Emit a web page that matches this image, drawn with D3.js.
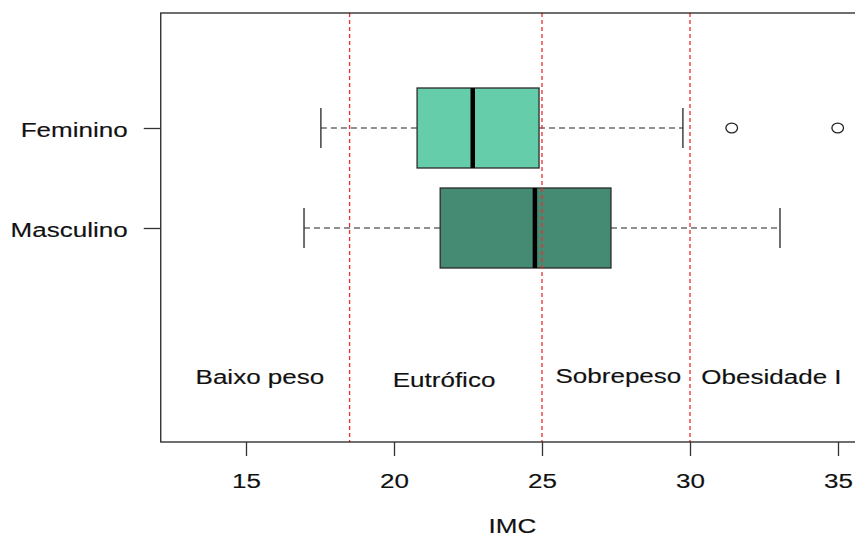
<!DOCTYPE html>
<meta charset="utf-8">
<style>
body { margin: 0; background: #fff; }
svg { display: block; font-family: "Liberation Sans", Arial, sans-serif; }
.frame { fill: none; stroke: #222; stroke-width: 1.3px; }
.whisker { stroke: #222; stroke-width: 1.2px; stroke-dasharray: 6,4; }
.staple { stroke: #333; stroke-width: 1.4px; }
.box { stroke: #2a2a2a; stroke-width: 1.3px; }
.median { stroke: #000; stroke-width: 4.5px; }
.outlier { fill: none; stroke: #222; stroke-width: 1.3px; }
.cut { stroke: #ee2c2c; stroke-width: 1.3px; stroke-dasharray: 4,3; }
.axis path, .axis line { stroke: #333; stroke-width: 1.3px; }
.axis text, .lbl { font-size: 21px; fill: #111; stroke: #111; stroke-width: 0.15px; }
</style>
<body>
<script src="https://cdn.jsdelivr.net/npm/d3@7"></script>
<script>

// groups, top to bottom
var groups = ["Feminino", "Masculino"];
var fills = ["#66CDAA", "#458B74"];
var lowWhisker = [17.53, 16.96];
var q1 = [20.78, 21.56];
var median = [22.66, 24.76];
var q3 = [24.90, 27.33];
var highWhisker = [29.76, 33.04];
var outliers = [[31.41, 34.99], []];

// IMC cut points and class labels
var cuts = [18.5, 25, 30];
var classes = ["Baixo peso", "Eutrófico", "Sobrepeso", "Obesidade I"];
var classX = [15.47, 21.69, 27.58, 32.75];
var classY = [0.44, 0.41, 0.45, 0.44];
var xTicks = [15, 20, 25, 30, 35];

var W = 855, H = 538;
var stretch = 1.24; // the picture's text is a bit wider than tall

var x = d3.scaleLinear().domain([15, 35]).range([246, 838]);
var y = d3.scaleLinear().domain([-0.14, 4.15]).range([442, 13]);
var pos = d3.scaleOrdinal().domain(groups).range([3, 2]);
var half = 0.4;
var xmin = 12.12, xmax = 35.88;

var svg = d3.select("body").append("svg")
    .attr("width", W)
    .attr("height", H);

// boxes
var g = svg.selectAll(".grp")
    .data(groups)
  .enter().append("g")
    .attr("class", "grp");

g.append("line")
    .attr("class", "whisker")
    .attr("x1", function(d, i) { return x(lowWhisker[i]); })
    .attr("x2", function(d, i) { return x(q1[i]); })
    .attr("y1", function(d) { return y(pos(d)); })
    .attr("y2", function(d) { return y(pos(d)); });

g.append("line")
    .attr("class", "whisker")
    .attr("x1", function(d, i) { return x(q3[i]); })
    .attr("x2", function(d, i) { return x(highWhisker[i]); })
    .attr("y1", function(d) { return y(pos(d)); })
    .attr("y2", function(d) { return y(pos(d)); });

[lowWhisker, highWhisker].forEach(function(arr) {
  g.append("line")
      .attr("class", "staple")
      .attr("x1", function(d, i) { return x(arr[i]); })
      .attr("x2", function(d, i) { return x(arr[i]); })
      .attr("y1", function(d) { return y(pos(d) + half / 2); })
      .attr("y2", function(d) { return y(pos(d) - half / 2); });
});

g.append("rect")
    .attr("class", "box")
    .attr("x", function(d, i) { return x(q1[i]); })
    .attr("width", function(d, i) { return x(q3[i]) - x(q1[i]); })
    .attr("y", function(d) { return y(pos(d) + half); })
    .attr("height", function(d) { return y(pos(d) - half) - y(pos(d) + half); })
    .attr("fill", function(d, i) { return fills[i]; });

g.append("line")
    .attr("class", "median")
    .attr("x1", function(d, i) { return x(median[i]); })
    .attr("x2", function(d, i) { return x(median[i]); })
    .attr("y1", function(d) { return y(pos(d) + half); })
    .attr("y2", function(d) { return y(pos(d) - half); });

g.each(function(d, i) {
  d3.select(this).selectAll(".outlier")
      .data(outliers[i])
    .enter().append("ellipse")
      .attr("class", "outlier")
      .attr("cx", function(v) { return x(v); })
      .attr("cy", y(pos(d)))
      .attr("rx", 5.8)
      .attr("ry", 4.8);
});

// cut lines drawn over the boxes
svg.selectAll(".cut")
    .data(cuts)
  .enter().append("line")
    .attr("class", "cut")
    .attr("x1", function(d) { return x(d); })
    .attr("x2", function(d) { return x(d); })
    .attr("y1", y.range()[1])
    .attr("y2", y.range()[0]);

svg.append("rect")
    .attr("class", "frame")
    .attr("x", x(xmin))
    .attr("y", y.range()[1])
    .attr("width", x(xmax) - x(xmin))
    .attr("height", y.range()[0] - y.range()[1]);

// axes
var xAxis = svg.append("g")
    .attr("class", "axis")
    .attr("transform", "translate(0," + y.range()[0] + ")")
    .call(d3.axisBottom(x).tickValues(xTicks).tickSize(14).tickSizeOuter(0));
xAxis.select(".domain").remove();
xAxis.selectAll("text")
    .attr("y", 46).attr("dy", 0)
    .attr("transform", "scale(" + stretch + ",1)");

var yAxis = svg.append("g")
    .attr("class", "axis")
    .attr("transform", "translate(" + x(xmin) + ",0)")
    .call(d3.axisLeft(y)
      .tickValues(groups.map(pos))
      .tickFormat(function(v) { return groups[pos.range().indexOf(v)]; })
      .tickSize(17).tickSizeOuter(0));
yAxis.select(".domain").remove();
yAxis.selectAll("text")
    .attr("x", -33 / stretch).attr("dy", 0).attr("y", 8)
    .attr("transform", "scale(" + stretch + ",1)");

function label(txt, px, py) {
  svg.append("text")
      .attr("class", "lbl")
      .attr("text-anchor", "middle")
      .attr("transform", "translate(" + px + "," + py + ") scale(" + stretch + ",1)")
      .text(txt);
}

classes.forEach(function(c, i) { label(c, x(classX[i]), y(classY[i])); });
label("IMC", (x(xmin) + x(xmax)) / 2, 533);

</script>
